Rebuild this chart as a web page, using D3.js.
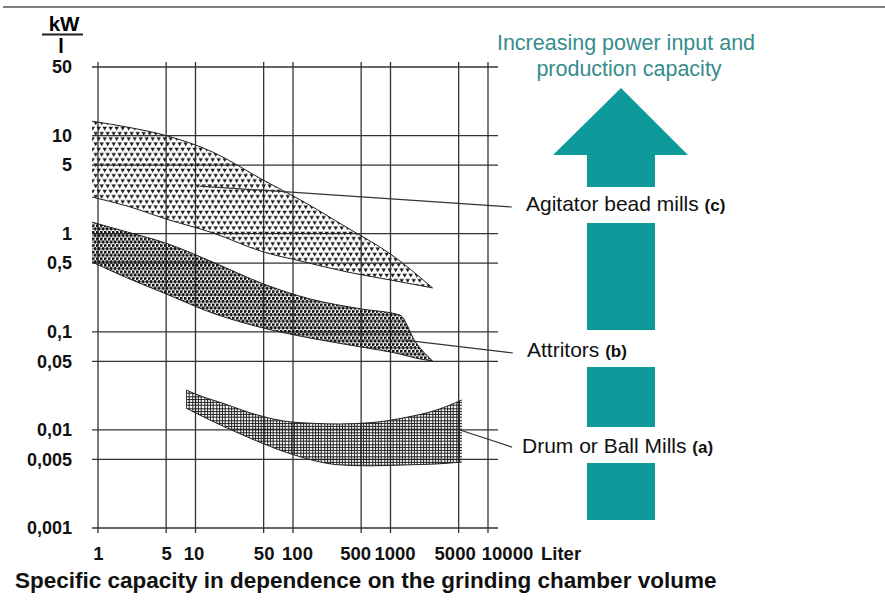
<!DOCTYPE html>
<html>
<head>
<meta charset="utf-8">
<script src="https://cdn.jsdelivr.net/npm/d3@7"></script>
<style>
  body { margin: 0; background: #fff; }
  svg { display: block; font-family: "Liberation Sans", Arial, sans-serif; }
  .tick-label { font-weight: bold; font-size: 18px; fill: #111; }
  .x-label { font-size: 18.5px; }
</style>
</head>
<body>
<svg id="chart" width="885" height="601"></svg>
<script>
// axis ticks
const xTicks = [1, 5, 10, 50, 100, 500, 1000, 5000, 10000];
const xTickLabels = ["1", "5", "10", "50", "100", "500", "1000", "5000", "10000"];
const yTicks = [50, 10, 5, 1, 0.5, 0.1, 0.05, 0.01, 0.005, 0.001];
const yTickLabels = ["50", "10", "5", "1", "0,5", "0,1", "0,05", "0,01", "0,005", "0,001"];

// (c) agitator bead mills
const beadX = [0.87, 2, 5, 15, 50, 120, 360, 1000, 2700];
const beadUpper = [14, 12.2, 10, 6.8, 3.5, 2.2, 1.15, 0.62, 0.28];
const beadLower = [2.36, 1.91, 1.41, 1.02, 0.65, 0.526, 0.407, 0.337, 0.28];

// (b) attritors
const attrX = [0.87, 2, 5, 15, 50, 150, 500, 1250, 1800, 2700];
const attrUpper = [1.31, 1.04, 0.8, 0.514, 0.307, 0.216, 0.171, 0.148, 0.079, 0.0504];
const attrLower = [0.514, 0.353, 0.243, 0.155, 0.109, 0.0863, 0.07, 0.0593, 0.054, 0.0504];

// (a) drum or ball mills
const drumX = [8, 10, 20, 40, 100, 300, 600, 1500, 3000, 5400];
const drumUpper = [0.0255, 0.0232, 0.0184, 0.0145, 0.012, 0.0115, 0.0118, 0.0135, 0.016, 0.0202];
const drumLower = [0.0167, 0.0149, 0.0107, 0.0079, 0.0056, 0.0044, 0.0043, 0.0044, 0.0045, 0.0047];

// leader lines (start in band, end at label), data units
const beadLeader = [[11, 3.06], [17600, 1.87]];
const attrLeader = [[1400, 0.0824], [18000, 0.0608]];
const drumLeader = [[5160, 0.00997], [17600, 0.00668]];

// small horizontal nudges of the x labels, as in the original print
const xLabelNudge = [0, 0, -2, 0, 4, -6, 4, -4, 19];

const svg = d3.select("#chart");

const xScale = d3.scaleLog().domain([1, 10000]).range([98, 488]);
const yScale = d3.scaleLog().domain([0.001, 50]).range([528, 67]);

// top rule
svg.append("line")
  .attr("x1", 3).attr("x2", 885)
  .attr("y1", 7).attr("y2", 7)
  .attr("stroke", "#808080")
  .attr("stroke-width", 2);

// patterns
const defs = svg.append("defs");

const pTri = defs.append("pattern")
  .attr("id", "tri")
  .attr("patternUnits", "userSpaceOnUse")
  .attr("width", 6).attr("height", 10.5);
const triFill = "#1e1e1e";
pTri.append("path").attr("d", "M0.4,0.6 L5,0.6 L2.7,4.6 Z").attr("fill", triFill);
pTri.append("path").attr("d", "M3.4,5.85 L8,5.85 L5.7,9.85 Z").attr("fill", triFill);
pTri.append("path").attr("d", "M-2.6,5.85 L2,5.85 L-0.3,9.85 Z").attr("fill", triFill);

const pDot = defs.append("pattern")
  .attr("id", "dot")
  .attr("patternUnits", "userSpaceOnUse")
  .attr("width", 4).attr("height", 6.6);
[[1, 1.2], [3, 4.5], [-1, 4.5], [5, 4.5]].forEach(([cx, cy]) => {
  pDot.append("circle").attr("cx", cx).attr("cy", cy).attr("r", 1.65).attr("fill", "#151515");
});

const pGrid = defs.append("pattern")
  .attr("id", "hatch")
  .attr("patternUnits", "userSpaceOnUse")
  .attr("width", 12).attr("height", 12);
[0.8, 3.6, 6.4, 9.2].forEach(p => {
  pGrid.append("line").attr("x1", p).attr("x2", p).attr("y1", 0).attr("y2", 12)
    .attr("stroke", "#1e1e1e").attr("stroke-width", 1);
  pGrid.append("line").attr("y1", p).attr("y2", p).attr("x1", 0).attr("x2", 12)
    .attr("stroke", "#1e1e1e").attr("stroke-width", 1);
});

// grid
const gridColor = "#333";
svg.append("g").selectAll("line")
  .data(yTicks)
  .enter()
  .append("line")
  .attr("x1", xScale(1) - 6)
  .attr("x2", xScale(10000) + 10)
  .attr("y1", d => yScale(d))
  .attr("y2", d => yScale(d))
  .attr("stroke", gridColor)
  .attr("stroke-width", 1.3);

svg.append("g").selectAll("line")
  .data(xTicks)
  .enter()
  .append("line")
  .attr("x1", d => xScale(d))
  .attr("x2", d => xScale(d))
  .attr("y1", yScale(50) - 5)
  .attr("y2", yScale(0.001) + 5)
  .attr("stroke", gridColor)
  .attr("stroke-width", 1.3);

// bands
const drawBand = (xs, upper, lower, fill) => {
  const pts = xs.map((x, i) => ({ x, u: upper[i], l: lower[i] }));
  const area = d3.area()
    .x(d => xScale(d.x))
    .y0(d => yScale(d.l))
    .y1(d => yScale(d.u))
    .curve(d3.curveMonotoneX);
  svg.append("path")
    .attr("d", area(pts))
    .attr("fill", `url(#${fill})`)
    .attr("stroke", "none");
  const edge = key => d3.line()
    .x(d => xScale(d.x))
    .y(d => yScale(d[key]))
    .curve(d3.curveMonotoneX)(pts);
  ["u", "l"].forEach(k => {
    svg.append("path")
      .attr("d", edge(k))
      .attr("fill", "none")
      .attr("stroke", "#222")
      .attr("stroke-width", 1);
  });
};

drawBand(beadX, beadUpper, beadLower, "tri");
drawBand(attrX, attrUpper, attrLower, "dot");
drawBand(drumX, drumUpper, drumLower, "hatch");

// leaders
[beadLeader, attrLeader, drumLeader].forEach(seg => {
  svg.append("line")
    .attr("x1", xScale(seg[0][0])).attr("y1", yScale(seg[0][1]))
    .attr("x2", xScale(seg[1][0])).attr("y2", yScale(seg[1][1]))
    .attr("stroke", "#333")
    .attr("stroke-width", 1.2);
});

// axes (labels only, the grid is drawn above)
const yAxis = d3.axisLeft(yScale)
  .tickValues(yTicks)
  .tickFormat((d, i) => yTickLabels[i])
  .tickSize(0)
  .tickPadding(26);
const yAxisG = svg.append("g")
  .attr("transform", `translate(${xScale(1)}, 0)`)
  .call(yAxis);
yAxisG.select(".domain").remove();
yAxisG.selectAll("text").attr("class", "tick-label");
yAxisG.attr("font-family", null).attr("font-size", null);

const xAxis = d3.axisBottom(xScale)
  .tickValues(xTicks)
  .tickFormat((d, i) => xTickLabels[i])
  .tickSize(0)
  .tickPadding(19);
const xAxisG = svg.append("g")
  .attr("transform", `translate(0, ${yScale(0.001)})`)
  .call(xAxis);
xAxisG.select(".domain").remove();
xAxisG.selectAll("text")
  .attr("class", "tick-label x-label")
  .attr("dx", (d, i) => xLabelNudge[i]);
xAxisG.attr("font-family", null).attr("font-size", null);

svg.append("text")
  .attr("class", "tick-label x-label")
  .attr("x", 541).attr("y", 560)
  .text("Liter");

// unit kW / l
svg.append("text")
  .attr("x", 64).attr("y", 31)
  .attr("text-anchor", "middle")
  .attr("font-weight", "bold").attr("font-size", 20.5)
  .text("kW");
svg.append("line")
  .attr("x1", 42).attr("x2", 83)
  .attr("y1", 34.5).attr("y2", 34.5)
  .attr("stroke", "#222").attr("stroke-width", 2);
svg.append("text")
  .attr("x", 61).attr("y", 53)
  .attr("text-anchor", "middle")
  .attr("font-weight", "bold").attr("font-size", 20)
  .text("l");

// title
svg.append("text")
  .attr("x", 15).attr("y", 588)
  .attr("font-weight", "bold").attr("font-size", 22.5)
  .attr("fill", "#111")
  .text("Specific capacity in dependence on the grinding chamber volume");

// right side: arrow
const teal = "#0e9a9a";
svg.append("path")
  .attr("d", "M621,88 L688,155 L655,155 L655,187 L587,187 L587,155 L553,155 Z")
  .attr("fill", teal);
[[223, 330], [367, 427], [463, 520]].forEach(([y0, y1]) => {
  svg.append("rect")
    .attr("x", 587).attr("y", y0)
    .attr("width", 68).attr("height", y1 - y0)
    .attr("fill", teal);
});

svg.append("text")
  .attr("x", 626).attr("y", 50)
  .attr("text-anchor", "middle")
  .attr("font-size", 21.5).attr("fill", "#378c8c")
  .text("Increasing power input and");
svg.append("text")
  .attr("x", 629).attr("y", 76)
  .attr("text-anchor", "middle")
  .attr("font-size", 21.5).attr("fill", "#378c8c")
  .text("production capacity");

// band labels
const bandLabels = [
  { name: "Agitator bead mills ", tag: "(c)", x: 526, y: 211 },
  { name: "Attritors ", tag: "(b)", x: 527, y: 357 },
  { name: "Drum or Ball Mills ", tag: "(a)", x: 522, y: 453 }
];
bandLabels.forEach(l => {
  const t = svg.append("text")
    .attr("x", l.x).attr("y", l.y)
    .attr("font-size", 21).attr("fill", "#111");
  t.append("tspan").text(l.name);
  t.append("tspan").attr("font-weight", "bold").attr("font-size", 17).text(l.tag);
});
</script>
</body>
</html>
